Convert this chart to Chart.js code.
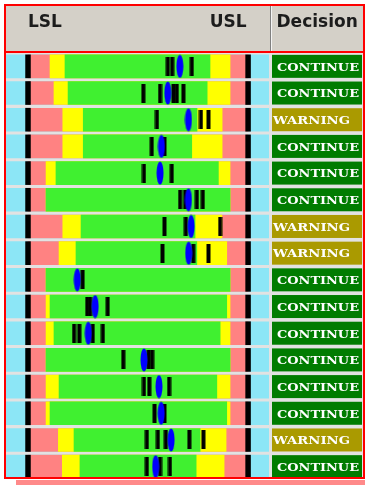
<!DOCTYPE html>
<html><head><meta charset="utf-8">
<script src="https://cdn.jsdelivr.net/npm/chart.js@4.4.1/dist/chart.umd.min.js"></script>
<style>
html,body{margin:0;padding:0;background:#fff;width:365px;height:485px;overflow:hidden}
#frame{position:absolute;left:4px;top:4px;width:357px;height:471px;border:2px solid #ff0000;overflow:hidden;background:#e2e2e2}
#c{position:absolute;left:0;top:0}
#shadow{position:absolute;left:16px;top:480px;width:349px;height:5px;background:#ff8a8a}
</style></head><body>
<div id="frame"><canvas id="c" width="357" height="474"></canvas></div>
<div id="shadow"></div>
<script>
// ---- data ----
const rows = ['1','2','3','4','5','6','7','8','9','10','11','12','13','14','15','16'];
const LSL = 0, USL = 100;
const limitLabels = ['LSL', 'USL'];
const decisionTitle = 'Decision';
const lowerWarn = [10, 11.8, 15.8, 15.8, 8.2, 8.2, 15.8, 14.1, 8.2, 8.2, 8.2, 8.2, 8.2, 8.2, 13.8, 15.6];
const lowerCtrl = [16.8, 18.2, 25.1, 25.1, 12.7, 8.2, 24.1, 21.8, 8.2, 10, 11.8, 8.2, 14.1, 10, 20.9, 23.6];
const upperCtrl = [82.7, 81.4, 76.8, 74.4, 86.5, 91.8, 75.9, 76.7, 91.8, 90.3, 87.3, 91.8, 85.8, 90.3, 78.2, 76.4];
const upperWarn = [91.8, 91.8, 88.2, 88.2, 91.8, 91.8, 88.1, 90.3, 91.8, 91.8, 91.8, 91.8, 91.8, 91.8, 90, 89.1];
const readings = [
  [63.5, 65.5, 74.4],
  [52.4, 60, 66.1, 67.6, 70.6],
  [58.6, 78.6, 82],
  [56.2, 62],
  [52.7, 65.3],
  [69.1, 71.4, 76.7, 79.4],
  [62, 71.7, 87.3],
  [61.1, 75.1, 82],
  [24.8],
  [26.9, 28.2, 36.2],
  [20.9, 23.3, 29.4, 34],
  [43.3, 54.8, 56.4],
  [52.7, 55.1, 64.1],
  [57.5, 62],
  [54, 59, 62.6, 73.3, 79.7],
  [54, 60, 64.5]
];
const means = [69, 63.5, 72.9, 60.6, 60, 72.9, 74.1, 73, 22.4, 30.5, 27.4, 52.7, 59.5, 60.5, 65, 58];
const decisions = ['CONTINUE','CONTINUE','WARNING','CONTINUE','CONTINUE','CONTINUE','WARNING','WARNING',
                   'CONTINUE','CONTINUE','CONTINUE','CONTINUE','CONTINUE','CONTINUE','WARNING','CONTINUE'];

// ---- styles ----
const AX_MIN = -10, AX_MAX = 109.5;
const CYAN = '#8ce6f6', PINK = '#ff8282', YELLOW = '#ffff00', GREEN = '#40f030';
const DEC_COLORS = { CONTINUE: '#007c00', WARNING: '#aa9a00' };

function makeTick() {
  const c = document.createElement('canvas'); c.width = 5; c.height = 19;
  const g = c.getContext('2d'); g.fillStyle = '#000'; g.fillRect(0.5, 0, 4, 19); return c;
}
function makeMean() {
  const c = document.createElement('canvas'); c.width = 8; c.height = 24;
  const g = c.getContext('2d'); g.fillStyle = '#0000ff';
  g.beginPath(); g.ellipse(4, 12, 3.5, 11.5, 0, 0, Math.PI * 2); g.fill(); return c;
}

const readingPts = [];
readings.forEach((arr, i) => arr.forEach(v => readingPts.push({ x: v, y: rows[i] })));
const meanPts = means.map((v, i) => ({ x: v, y: rows[i] }));

const bar = (label, data, color, order) => ({
  type: 'bar', label, data, backgroundColor: color, borderWidth: 0,
  barThickness: 23, grouped: false, order
});

const decor = {
  id: 'decor',
  beforeDraw(chart) {
    const { ctx, scales: { x } } = chart;
    ctx.save();
    ctx.fillStyle = '#d4d0c8'; ctx.fillRect(0, 0, chart.width, 45);
    ctx.fillStyle = '#ff0000'; ctx.fillRect(0, 45, chart.width, 2);
    ctx.fillStyle = '#808080'; ctx.fillRect(264, 0, 1, 45);
    ctx.fillStyle = '#f4f4f4'; ctx.fillRect(265, 0, 1, 45);
    ctx.font = 'bold 17px "DejaVu Sans"';
    ctx.fillStyle = '#1c1c1c'; ctx.textBaseline = 'alphabetic';
    ctx.textAlign = 'left'; ctx.fillText(limitLabels[0], x.getPixelForValue(LSL), 20.5);
    ctx.textAlign = 'right'; ctx.fillText(limitLabels[1], x.getPixelForValue(USL) - 1.4, 20.5);
    ctx.textAlign = 'left'; ctx.fillText(decisionTitle, 270.5, 20.5);
    ctx.restore();
  },
  afterDatasetsDraw(chart) {
    const { ctx, scales: { y } } = chart;
    ctx.save();
    decisions.forEach((d, i) => {
      const cy = y.getPixelForValue(i);
      ctx.fillStyle = DEC_COLORS[d];
      ctx.fillRect(266, cy - 11.5, 90, 23);
      ctx.font = 'bold 11px "DejaVu Serif"';
      ctx.fillStyle = '#ffffff'; ctx.textAlign = 'left'; ctx.textBaseline = 'alphabetic';
      const w = ctx.measureText(d).width;
      const left = d === 'WARNING' ? 267 : 271;
      const target = d === 'WARNING' ? 77 : 82;
      ctx.save();
      ctx.translate(left, cy + 4.3);
      ctx.scale(target / w, 1);
      ctx.fillText(d, 0, 0);
      ctx.restore();
    });
    ctx.restore();
  }
};

new Chart(document.getElementById('c'), {
  type: 'bar',
  data: {
    labels: rows,
    datasets: [
      bar('range', rows.map(() => [AX_MIN, AX_MAX]), CYAN, 10),
      bar('spec', rows.map(() => [LSL, USL]), PINK, 9),
      bar('warning', rows.map((_, i) => [lowerWarn[i], upperWarn[i]]), YELLOW, 8),
      bar('control', rows.map((_, i) => [lowerCtrl[i], upperCtrl[i]]), GREEN, 7),
      bar('LSL', rows.map(() => [LSL - 1.1, LSL + 1.1]), '#000000', 6),
      bar('USL', rows.map(() => [USL - 1.1, USL + 1.1]), '#000000', 6),
      { type: 'scatter', label: 'readings', data: readingPts, pointStyle: makeTick(), radius: 3, order: 5 },
      { type: 'scatter', label: 'mean', data: meanPts, pointStyle: makeMean(), radius: 3, order: 4 }
    ]
  },
  options: {
    indexAxis: 'y',
    responsive: false,
    animation: false,
    events: [],
    layout: { autoPadding: false, padding: { top: 47, right: 94, left: 0, bottom: 0 } },
    scales: {
      x: { type: 'linear', min: AX_MIN, max: AX_MAX, display: false },
      y: { type: 'category', labels: rows, offset: true, display: false }
    },
    plugins: { legend: { display: false }, tooltip: { enabled: false } }
  },
  plugins: [decor]
});
</script>
</body></html>
